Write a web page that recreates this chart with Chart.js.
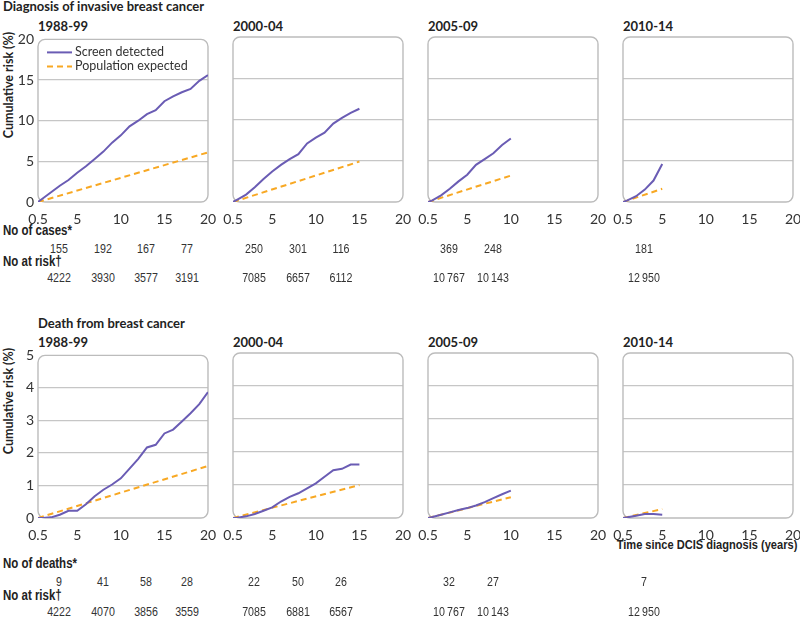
<!DOCTYPE html>
<html>
<head>
<meta charset="utf-8">
<script src="https://cdn.jsdelivr.net/npm/chart.js@4.4.1/dist/chart.umd.min.js"></script>
<style>
  body { margin: 0; background: #fff; width: 800px; height: 626px; position: relative; overflow: hidden; font-family: Lato, sans-serif; color: #222; }
  canvas { position: absolute; }
  .t { position: absolute; white-space: nowrap; line-height: 15px; }
  .head { font-weight: 700; font-size: 13px; }
  .ytitle { font-weight: 700; font-size: 12.5px; transform: translate(-50%, -50%) rotate(-90deg); }
  /* narrow look: Liberation Sans squeezed a little */
  .lab { font-family: "Liberation Sans", Arial, sans-serif; font-weight: 700; font-size: 14px; transform: scaleX(0.82); transform-origin: left center; }
  .lab.r { font-size: 13.5px; transform-origin: right center; }
  .num { font-family: "Liberation Sans", Arial, sans-serif; font-size: 13px; color: #333; transform: translateX(-50%) scaleX(0.82); }
</style>
</head>
<body>
<div class="t head" style="left:3px;top:-1px">Diagnosis of invasive breast cancer</div>
<div class="t head" style="left:38px;top:316px">Death from breast cancer</div>
<div class="t ytitle" style="left:8px;top:85px">Cumulative risk (%)</div>
<div class="t ytitle" style="left:8px;top:401px">Cumulative risk (%)</div>
<div class="t lab r" style="right:3px;top:537px">Time since DCIS diagnosis (years)</div>
<div class="t lab" style="left:3px;top:223px">No of cases*</div>
<div class="t lab" style="left:3px;top:254px">No at risk†</div>
<div class="t lab" style="left:3px;top:556px">No of deaths*</div>
<div class="t lab" style="left:3px;top:588px">No at risk†</div>

<script>
// periods of DCIS diagnosis
const periods = ['1988-99', '2000-04', '2005-09', '2010-14'];
const years = [0.5, 1, 2, 3, 4, 5, 6, 7, 8, 9, 10, 11, 12, 13, 14, 15, 16, 17, 18, 19, 20];
const xTicks = [0.5, 5, 10, 15, 20];
const followUpEnd = [20, 15, 10, 5];

// invasive breast cancer, cumulative risk (%)
const invScreen8899 = [0, 0.4, 1.2, 2.0, 2.7, 3.6, 4.4, 5.3, 6.2, 7.3, 8.2, 9.3, 10.0, 10.8, 11.3, 12.4, 13.0, 13.5, 13.9, 14.9, 15.6];
const invScreen0004 = [0, 0.3, 0.9, 1.8, 2.8, 3.7, 4.5, 5.2, 5.8, 7.1, 7.8, 8.4, 9.5, 10.2, 10.8, 11.3];
const invScreen0509 = [0, 0.2, 0.8, 1.6, 2.5, 3.3, 4.5, 5.2, 5.9, 6.9, 7.7];
const invScreen1014 = [0, 0.2, 0.7, 1.5, 2.6, 4.6];
const invPopEnd = [6.1, 4.9, 3.2, 1.6];

// death from breast cancer, cumulative risk (%)
const deathScreen8899 = [0, 0, 0.02, 0.1, 0.22, 0.22, 0.42, 0.67, 0.87, 1.03, 1.22, 1.52, 1.82, 2.17, 2.25, 2.6, 2.72, 2.97, 3.22, 3.5, 3.87];
const deathScreen0004 = [0, 0.01, 0.05, 0.12, 0.22, 0.32, 0.5, 0.64, 0.75, 0.9, 1.05, 1.25, 1.45, 1.49, 1.62, 1.62];
const deathScreen0509 = [0, 0.03, 0.1, 0.17, 0.24, 0.3, 0.38, 0.48, 0.6, 0.72, 0.83];
const deathScreen1014 = [0, 0.02, 0.07, 0.12, 0.12, 0.1];
const deathPopEnd = [1.6, 1.0, 0.63, 0.27];

// numbers under each row
const invCases = [[155, 192, 167, 77], [250, 301, 116], [369, 248], [181]];
const invAtRisk = [[4222, 3930, 3577, 3191], [7085, 6657, 6112], [10767, 10143], [12950]];
const deaths = [[9, 41, 58, 28], [22, 50, 26], [32, 27], [7]];
const deathAtRisk = [[4222, 4070, 3856, 3559], [7085, 6881, 6567], [10767, 10143], [12950]];
const tableAt = [2.9, 7.9, 12.9, 17.6];

const purple = '#6a5cb4';
const orange = '#f8a823';
const gridColor = '#c6c6c6';
const boxColor = '#bcbcbc';

const boxLefts = [38, 233, 428, 623];
const boxW = 170, boxH = 165, padTop = 10, xAxisH = 22;

// rounded frame round the plot area
const framePlugin = {
  id: 'frame',
  beforeDatasetsDraw(chart) {
    const a = chart.chartArea;
    const ctx = chart.ctx;
    ctx.save();
    ctx.strokeStyle = boxColor;
    ctx.lineWidth = 1.4;
    ctx.beginPath();
    ctx.roundRect(a.left, a.top, a.right - a.left, a.bottom - a.top, 7);
    ctx.stroke();
    ctx.restore();
  }
};

// small line legend inside first panel
const legendPlugin = {
  id: 'lineLegend',
  afterDraw(chart, args, opts) {
    if (!opts.show) return;
    const a = chart.chartArea;
    const ctx = chart.ctx;
    ctx.save();
    chart.data.datasets.forEach((ds, k) => {
      const y = a.top + 13 + k * 14;
      ctx.strokeStyle = ds.borderColor;
      ctx.lineWidth = 2;
      ctx.setLineDash(ds.borderDash || []);
      ctx.beginPath();
      ctx.moveTo(a.left + 9, y);
      ctx.lineTo(a.left + 34, y);
      ctx.stroke();
      ctx.setLineDash([]);
      ctx.fillStyle = '#333';
      ctx.font = '12.5px Lato, sans-serif';
      ctx.textBaseline = 'middle';
      ctx.fillText(ds.label, a.left + 37, y);
    });
    ctx.restore();
  }
};

function fmt(n) {
  return n >= 10000 ? String(n).replace(/(\d+)(\d{3})$/, '$1\u2009$2') : String(n);
}

function addText(cls, x, y, text) {
  const d = document.createElement('div');
  d.className = 't ' + cls;
  d.style.left = x + 'px';
  d.style.top = y + 'px';
  d.textContent = text;
  document.body.appendChild(d);
}

function makePanel(boxTop, i, screen, popEnd, yMax, yStep, showLegend) {
  const padLeft = i === 0 ? 38 : 14;
  const canvas = document.createElement('canvas');
  const left = boxLefts[i] - padLeft;
  const top = boxTop - padTop;
  canvas.width = padLeft + boxW + 14;
  canvas.height = padTop + boxH + xAxisH;
  canvas.style.left = left + 'px';
  canvas.style.top = top + 'px';
  document.body.appendChild(canvas);

  const chart = new Chart(canvas, {
    type: 'line',
    data: {
      datasets: [
        {
          label: 'Screen detected',
          data: screen.map((v, k) => ({ x: years[k], y: v })),
          borderColor: purple,
          borderWidth: 2,
          pointRadius: 0,
        },
        {
          label: 'Population expected',
          data: [{ x: 0.5, y: 0 }, { x: followUpEnd[i], y: popEnd }],
          borderColor: orange,
          borderWidth: 2,
          borderDash: [6, 4],
          pointRadius: 0,
        },
      ],
    },
    options: {
      responsive: false,
      animation: false,
      events: [],
      layout: { padding: { left: i === 0 ? 0 : 14, right: 14, top: padTop, bottom: 0 } },
      plugins: {
        legend: { display: false },
        tooltip: { enabled: false },
        lineLegend: { show: showLegend },
      },
      scales: {
        x: {
          type: 'linear',
          min: 0.5,
          max: 20,
          afterBuildTicks: (s) => { s.ticks = xTicks.map(v => ({ value: v })); },
          afterFit: (s) => { s.height = xAxisH; },
          grid: { display: false },
          border: { display: false },
          ticks: {
            autoSkip: false,
            maxRotation: 0,
            padding: 1,
            color: '#333',
            font: { family: 'Lato', size: 14 },
            callback: (v) => String(v),
          },
        },
        y: {
          min: 0,
          max: yMax,
          afterFit: (s) => { s.width = i === 0 ? 38 : 0; },
          border: { display: false },
          grid: {
            drawTicks: false,
            lineWidth: 1.3,
            color: (c) => (c.tick && c.tick.value > 0 && c.tick.value < yMax ? gridColor : 'rgba(0,0,0,0)'),
          },
          ticks: {
            display: i === 0,
            stepSize: yStep,
            padding: 4,
            color: '#333',
            font: { family: 'Lato', size: 14 },
          },
        },
      },
    },
    plugins: [framePlugin, legendPlugin],
  });
  return { chart, left };
}

function buildRow(boxTop, screens, popEnds, yMax, yStep, firstCounts, atRisk, countY, riskY) {
  screens.forEach((screen, i) => {
    addText('head', boxLefts[i], boxTop - 18, periods[i]);
    const p = makePanel(boxTop, i, screen, popEnds[i], yMax, yStep, yMax === 20 && i === 0);
    firstCounts[i].forEach((n, j) => {
      const x = p.left + p.chart.scales.x.getPixelForValue(tableAt[j]);
      addText('num', x, countY, fmt(n));
      addText('num', x, riskY, fmt(atRisk[i][j]));
    });
  });
}

buildRow(37, [invScreen8899, invScreen0004, invScreen0509, invScreen1014], invPopEnd, 20, 5,
  invCases, invAtRisk, 241, 270);
buildRow(353, [deathScreen8899, deathScreen0004, deathScreen0509, deathScreen1014], deathPopEnd, 5, 1,
  deaths, deathAtRisk, 574, 604);
</script>
</body>
</html>
